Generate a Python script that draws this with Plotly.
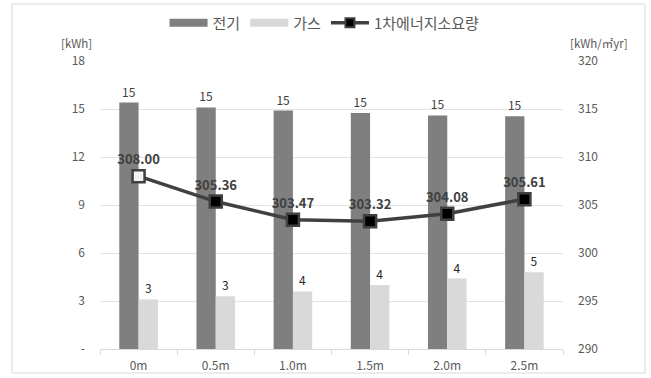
import plotly.graph_objects as go

# Categories and series
categories = ["0m", "0.5m", "1.0m", "1.5m", "2.0m", "2.5m"]
electricity = [15.4, 15.1, 14.9, 14.75, 14.6, 14.55]
gas = [3.1, 3.3, 3.6, 4.0, 4.4, 4.8]
primary_energy = [308.00, 305.36, 303.47, 303.32, 304.08, 305.61]

left_ticks = [0, 3, 6, 9, 12, 15, 18]
left_tick_labels = ["-", "3", "6", "9", "12", "15", "18"]
right_ticks = [290, 295, 300, 305, 310, 315, 320]

W, H = 651, 378
L, R, T, B = 100, 88, 61, 29
FONT = "Noto Sans CJK KR"
TXT = "#595959"
ELEC_C, GAS_C, LINE_C = "#7f7f7f", "#d9d9d9", "#404040"

fig = go.Figure()

fig.add_trace(go.Bar(
    x=categories, y=electricity, name="전기", showlegend=False,
    marker=dict(color=ELEC_C, line=dict(width=0)),
    text=[f"{v:.0f}" for v in electricity], textposition="outside",
    textfont=dict(size=12, color="#404040", family=FONT),
    cliponaxis=False,
))
fig.add_trace(go.Bar(
    x=categories, y=gas, name="가스", showlegend=False,
    marker=dict(color=GAS_C, line=dict(width=0)),
    text=[f"{v:.0f}" for v in gas], textposition="outside",
    textfont=dict(size=12, color="#262626", family=FONT),
    cliponaxis=False,
))
fig.add_trace(go.Scatter(
    x=categories, y=primary_energy, name="1차에너지소요량", yaxis="y2",
    mode="lines+markers+text", showlegend=False,
    line=dict(color=LINE_C, width=3.5),
    marker=dict(symbol="square", size=12,
                color=["#f2f2f2"] + ["#000000"] * (len(categories) - 1),
                line=dict(color=LINE_C, width=2.5)),
    text=[f"{v:.2f}" for v in primary_energy], textposition="top center",
    textfont=dict(size=13, color="#404040", family=FONT, weight="bold"),
    cliponaxis=False,
))

# Legend entries with wide swatches
fig.add_trace(go.Scatter(x=[None], y=[None], mode="lines", name="전기",
                         line=dict(color=ELEC_C, width=8)))
fig.add_trace(go.Scatter(x=[None], y=[None], mode="lines", name="가스",
                         line=dict(color=GAS_C, width=8)))
fig.add_trace(go.Scatter(x=[None], y=[None], mode="lines+markers", name="1차에너지소요량",
                         line=dict(color=LINE_C, width=3.5),
                         marker=dict(symbol="square", size=9, color="#000000",
                                     line=dict(color=LINE_C, width=2))))

pw, ph = W - L - R, H - T - B
def px_x(p): return (p - L) / pw
def px_y(p): return (H - B - p) / ph

fig.update_layout(
    width=W, height=H,
    margin=dict(l=L, r=R, t=T, b=B, autoexpand=False),
    paper_bgcolor="white", plot_bgcolor="white",
    font=dict(family=FONT, size=12, color=TXT),
    barmode="group", bargap=0.5, bargroupgap=0,
    showlegend=True,
    legend=dict(orientation="h", x=0.485, xanchor="center", y=px_y(23), yanchor="middle",
                font=dict(size=15, color=TXT), traceorder="normal",
                itemwidth=38, bgcolor="rgba(0,0,0,0)"),
    xaxis=dict(
        type="category", showgrid=False, showline=True, linecolor="#d9d9d9", linewidth=1,
        ticks="outside", tickson="boundaries", ticklen=5, tickcolor="#d9d9d9",
        ticklabelstandoff=6, automargin=False,
        tickfont=dict(size=12, color=TXT), fixedrange=True,
    ),
    yaxis=dict(
        range=[0, 18], tickvals=left_ticks, ticktext=left_tick_labels,
        showgrid=True, gridcolor="#e3e3e3", gridwidth=1, zeroline=False,
        showline=False, ticks="", ticklabelstandoff=14, automargin=False,
        tickfont=dict(size=12, color=TXT),
    ),
    yaxis2=dict(
        range=[290, 320], tickvals=right_ticks, overlaying="y", side="right",
        showgrid=False, zeroline=False, showline=False, ticks="", ticklabelstandoff=14,
        automargin=False,
        tickfont=dict(size=12, color=TXT),
    ),
    annotations=[
        dict(text="[kWh]", xref="paper", yref="paper", x=px_x(76), y=px_y(43),
             showarrow=False, font=dict(size=11.5, color=TXT), xanchor="center", yanchor="middle"),
        dict(text="[kWh/㎡yr]", xref="paper", yref="paper", x=px_x(599), y=px_y(43),
             showarrow=False, font=dict(size=11.5, color=TXT), xanchor="center", yanchor="middle"),
    ],
    shapes=[
        dict(type="rect", xref="paper", yref="paper",
             x0=px_x(12), x1=px_x(645), y0=px_y(373), y1=px_y(4),
             line=dict(color="#d9d9d9", width=1), layer="below"),
    ],
)

fig.write_html("out.html")
